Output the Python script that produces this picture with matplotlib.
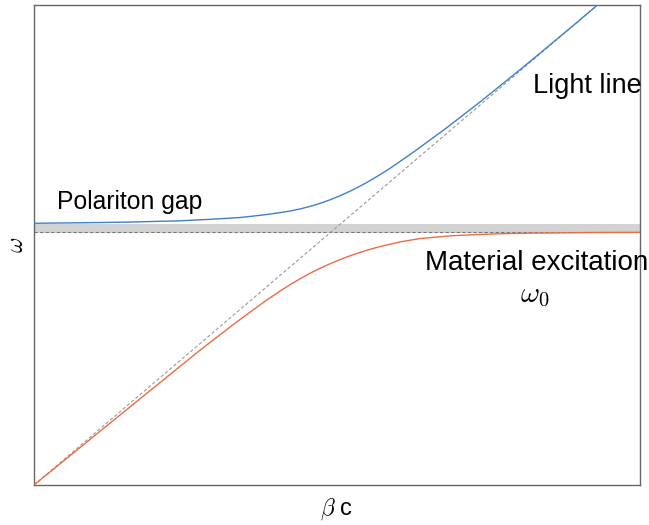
import matplotlib
matplotlib.use("Agg")
import matplotlib.pyplot as plt

# normalised units: omega / omega_0 and beta*c / omega_0
omega_0 = 1.0
omega_L = 1.031          # top of the polariton gap
beta_max = 2.04
omega_max = 1.897

# upper polariton branch
upper_beta = [0.000, 0.155, 0.323, 0.492, 0.593, 0.6431, 0.6936, 0.7273, 0.7609, 0.7946,
              0.8283, 0.8620, 0.8956, 0.9293, 0.9630, 0.9966, 1.0303, 1.0640, 1.0976, 1.1313,
              1.1650, 1.1987, 1.2323, 1.2828, 1.3333, 1.3838, 1.4343, 1.5017, 1.5690, 1.6364,
              1.7037, 1.8047, 1.9057]
upper_omega = [1.0344, 1.0362, 1.0391, 1.0441, 1.0500, 1.0534, 1.0571, 1.0613, 1.0658, 1.0708,
               1.0763, 1.0828, 1.0909, 1.1010, 1.1130, 1.1271, 1.1431, 1.1611, 1.1810, 1.2030,
               1.2265, 1.2516, 1.2787, 1.3200, 1.3636, 1.4071, 1.4526, 1.5138, 1.5775, 1.6415,
               1.7067, 1.8055, 1.9055]

# lower polariton branch
lower_beta = [0.000, 0.2896, 0.5589, 0.6734, 0.7273, 0.7845, 0.8283, 0.8620, 0.8956, 0.9293,
              0.9630, 1.0067, 1.0471, 1.0808, 1.1212, 1.1650, 1.2323, 1.2997, 1.4007, 1.4848,
              1.5690, 1.6700, 1.9057, 2.0400]
lower_omega = [0.000, 0.2767, 0.5328, 0.6364, 0.6834, 0.7316, 0.7664, 0.7915, 0.8150, 0.8368,
               0.8565, 0.8796, 0.8986, 0.9128, 0.9280, 0.9424, 0.9606, 0.9740, 0.9846, 0.9895,
               0.9929, 0.9953, 0.9980, 0.9985]

light_beta = [0.0, beta_max]
light_omega = [0.0, beta_max]

plt.rcParams['font.family'] = ['Liberation Sans', 'DejaVu Sans']
plt.rcParams['mathtext.fontset'] = 'cm'

fig = plt.figure(figsize=(6.49, 5.25), dpi=100)
ax = fig.add_axes([0.0524, 0.0762, 0.9337, 0.9143])

ax.axhspan(omega_0 - 0.004, omega_L, color='#d3d3d3', lw=0, zorder=1)
ax.axhline(omega_0, color='#777777', lw=0.8, ls=(0, (3, 2)), zorder=2)
ax.plot(light_beta, light_omega, color='#999999', lw=0.8, ls=(0, (3, 2)), zorder=2)

ax.plot(upper_beta, upper_omega, color='#3f80cc', lw=1.0, zorder=3)
ax.plot(lower_beta, lower_omega, color='#ee6a45', lw=1.0, zorder=3)

ax.set_xlim(0, beta_max)
ax.set_ylim(0, omega_max)
ax.set_xticks([])
ax.set_yticks([])
for s in ax.spines.values():
    s.set_color('#666666')
    s.set_linewidth(1.0)

ax.text(1.680, 1.548, 'Light line', fontsize=19.5, va='baseline', ha='left',
        clip_on=False)
ax.text(0.077, 1.090, 'Polariton gap', fontsize=17.8, va='baseline', ha='left')
ax.text(1.316, 0.850, 'Material excitation', fontsize=20, va='baseline', ha='left',
        clip_on=False)
ax.text(1.636, 0.724, r'$\omega_0$', fontsize=21, va='baseline', ha='left')

ax.set_xlabel(r'$\beta$ c', fontsize=17, labelpad=8)
ax.set_ylabel(r'$\omega$', fontsize=17, labelpad=4)

fig.savefig('out.png', dpi=100)
